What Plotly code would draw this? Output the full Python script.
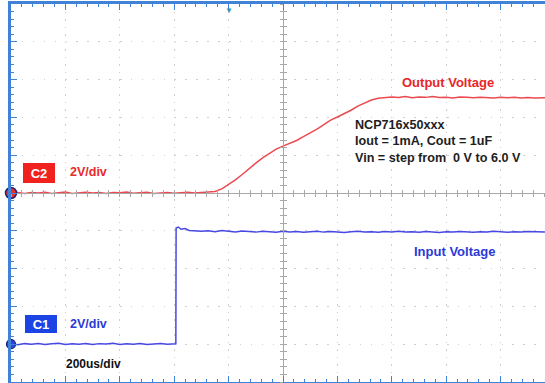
import plotly.graph_objects as go

# time in microseconds (200 us/div), volts per channel (2 V/div)
OUT_T = [0, 25, 50, 75, 100, 125, 150, 175, 200, 225, 250, 275, 300, 325, 350, 375,
         400, 425, 450, 475, 500, 525, 550, 575, 600, 625, 650, 675, 700, 725, 750,
         775, 800, 825, 850, 875, 900, 925, 950, 975, 1000, 1025, 1050, 1075, 1100,
         1125, 1150, 1175, 1200, 1225, 1250, 1275, 1300, 1325, 1350, 1375, 1400,
         1425, 1450, 1475, 1500, 1525, 1550, 1575, 1600, 1625, 1650, 1675, 1700,
         1725, 1750, 1775, 1800, 1825, 1850, 1875, 1900, 1925, 1963]
OUT_V = [0.00, 0.03, -0.02, 0.02, 0.00, 0.04, -0.03, 0.02, 0.05, -0.02, 0.01, 0.04,
         0.00, 0.03, -0.02, 0.03, 0.01, 0.05, -0.01, 0.02, 0.04, -0.02, 0.01, 0.03,
         -0.01, 0.02, 0.04, 0.00, 0.02, 0.05, 0.08,
         0.22, 0.45, 0.70, 0.98, 1.30, 1.58, 1.86, 2.10, 2.32, 2.48, 2.62, 2.78,
         2.98, 3.16, 3.38, 3.62, 3.86, 4.02, 4.18, 4.38, 4.60, 4.78, 4.92, 5.01,
         5.06, 5.08,
         5.05, 5.10, 5.04, 5.08, 5.06, 5.11, 5.05, 5.07, 5.03, 5.08, 5.06, 5.04,
         5.07, 5.05, 5.02, 5.06, 5.04, 5.07, 5.03, 5.05, 5.02, 5.04]

IN_T = [0, 25, 50, 75, 100, 125, 150, 175, 200, 225, 250, 275, 300, 325, 350, 375,
        400, 425, 450, 475, 500, 525, 550, 575, 600, 606, 607, 615, 625, 640, 655,
        675, 700, 725, 750, 775, 800, 825, 850, 875, 900, 925, 950, 975, 1000, 1025,
        1050, 1075, 1100, 1125, 1150, 1175, 1200, 1225, 1250, 1275, 1300, 1325,
        1350, 1375, 1400, 1425, 1450, 1475, 1500, 1525, 1550, 1575, 1600, 1625,
        1650, 1675, 1700, 1725, 1750, 1775, 1800, 1825, 1850, 1875, 1900, 1925, 1963]
IN_V = [0.02, -0.03, 0.03, 0.00, 0.04, -0.02, 0.02, 0.05, -0.01, 0.03, 0.00, 0.04,
        -0.02, 0.03, 0.01, 0.05, -0.01, 0.03, 0.00, 0.04, -0.02, 0.02, 0.04, 0.00,
        0.02, 0.02, 6.15, 6.20, 6.08, 6.12, 6.02, 6.00, 5.97, 6.00, 5.95, 6.02,
        5.98, 5.94, 5.99, 5.96, 5.93, 5.98, 5.95, 5.92, 5.97, 5.94, 5.96, 5.92,
        5.95, 5.98, 5.93, 5.96, 5.94, 5.91, 5.95, 5.97, 5.93, 5.95, 5.92, 5.96,
        5.94, 5.97, 5.93, 5.95, 5.92, 5.96, 5.94, 5.91, 5.95, 5.93, 5.96, 5.94,
        5.92, 5.95, 5.93, 5.97, 5.94, 5.92, 5.95, 5.93, 5.96, 5.94, 5.93]

T_RANGE = [0, 1963.2]
C2_RANGE = [-10, 10]   # C2 ground at screen centre
C1_RANGE = [-2, 18]    # C1 ground four divisions below centre
TRIGGER_T = 800

RED = "#ea4a50"
BLUE = "#4848e2"
BORDER = "#3f82d8"
GRID = "#cfcfcf"
AXGRAY = "#a8a8a8"
FONT = "Arial, Liberation Sans, sans-serif"

fig = go.Figure()
fig.add_trace(go.Scatter(x=OUT_T, y=OUT_V, mode="lines", line=dict(color=RED, width=1.5),
                         xaxis="x", yaxis="y", hoverinfo="skip"))
fig.add_trace(go.Scatter(x=IN_T, y=IN_V, mode="lines", line=dict(color=BLUE, width=1.5),
                         xaxis="x", yaxis="y2", hoverinfo="skip"))
# ground markers
fig.add_trace(go.Scatter(x=[0], y=[0], mode="markers", cliponaxis=False, xaxis="x", yaxis="y",
                         marker=dict(size=11, color="#e83030", line=dict(color="#23236e", width=1.5))))
fig.add_trace(go.Scatter(x=[0], y=[0], mode="markers", cliponaxis=False, xaxis="x", yaxis="y2",
                         marker=dict(size=9, color="#2848e0", line=dict(color="#1a1a80", width=1.2))))
# empty traces so the centre-cross axes get drawn
fig.add_trace(go.Scatter(x=[None], y=[None], xaxis="x2", yaxis="y3", hoverinfo="skip"))
fig.add_trace(go.Scatter(x=[None], y=[None], xaxis="x3", yaxis="y4", hoverinfo="skip"))

center_axis = dict(range=T_RANGE, overlaying="x", anchor="free", position=0.5,
                   showline=True, linecolor=AXGRAY, linewidth=1, showgrid=False,
                   zeroline=False, showticklabels=False, dtick=200, tick0=0,
                   ticklen=3, tickcolor=AXGRAY,
                   minor=dict(dtick=40, ticklen=3, tickcolor=AXGRAY))
center_yaxis = dict(range=C2_RANGE, overlaying="y", anchor="free",
                    position=1000 / T_RANGE[1], showline=True, linecolor=AXGRAY,
                    linewidth=1, showgrid=False, zeroline=False, showticklabels=False,
                    dtick=2, tick0=0, ticklen=3, tickcolor=AXGRAY,
                    minor=dict(dtick=0.4, ticklen=3, tickcolor=AXGRAY))

fig.update_layout(
    width=545, height=383,
    margin=dict(l=11, r=0, t=4, b=1),
    paper_bgcolor="white", plot_bgcolor="white",
    showlegend=False,
    font=dict(family=FONT),
    xaxis=dict(range=T_RANGE, showgrid=True, gridcolor=GRID, griddash="1.5px,6px",
               dtick=200, tick0=0, zeroline=False, showticklabels=False,
               showline=True, linecolor=BORDER, linewidth=3, mirror="ticks",
               ticks="inside", ticklen=6, tickcolor=BORDER,
               minor=dict(dtick=40, ticks="inside", ticklen=3, tickcolor=BORDER)),
    yaxis=dict(range=C2_RANGE, showgrid=True, gridcolor=GRID, griddash="1.5px,9.4px",
               dtick=2, tick0=0, zeroline=False, showticklabels=False,
               showline=True, linecolor=BORDER, linewidth=3,
               ticks="inside", ticklen=6, tickcolor=BORDER,
               minor=dict(dtick=0.4, ticks="inside", ticklen=3, tickcolor=BORDER)),
    yaxis2=dict(range=C1_RANGE, overlaying="y", visible=False),
    xaxis2=dict(center_axis, ticks="outside", minor=dict(center_axis["minor"], ticks="outside")),
    xaxis3=dict(center_axis, ticks="inside", minor=dict(center_axis["minor"], ticks="inside")),
    yaxis3=dict(center_yaxis, ticks="outside", minor=dict(center_yaxis["minor"], ticks="outside")),
    yaxis4=dict(center_yaxis, ticks="inside", minor=dict(center_yaxis["minor"], ticks="inside")),
)

ann = []
ann.append(dict(x=103, y=1.06, text="<b>C2</b>", font=dict(color="white", size=13),
                bgcolor="#f0221e", bordercolor="#f0221e", width=28, height=16, borderpad=1))
ann.append(dict(x=285, y=1.11, text="<b>2V/div</b>", font=dict(color="#e82a2a", size=12.5)))
ann.append(dict(x=110, y=-6.94, text="<b>C1</b>", font=dict(color="white", size=13),
                bgcolor="#1c44e4", bordercolor="#1c44e4", width=28, height=14, borderpad=1))
ann.append(dict(x=285, y=-6.93, text="<b>2V/div</b>", font=dict(color="#2a3ad6", size=12.5)))
ann.append(dict(x=305, y=-9.05, text="<b>200us/div</b>", font=dict(color="#111111", size=12)))
ann.append(dict(x=1606, y=5.87, text="<b>Output Voltage</b>", font=dict(color="#e8262a", size=13)))
ann.append(dict(x=1632, y=-3.12, text="<b>Input Voltage</b>", font=dict(color="#2a3ad6", size=13)))
ann.append(dict(x=1257, y=2.75, xanchor="left", align="left",
                text="<b>NCP716x50xxx<br>Iout = 1mA, Cout = 1uF<br>Vin = step from  0 V to 6.0 V</b>",
                font=dict(color="#1e1e1e", size=12.6)))
for a in ann:
    a.update(xref="x", yref="y", showarrow=False)
ann.append(dict(x=TRIGGER_T, y=1, xref="x", yref="paper", yanchor="top", showarrow=False,
                text="▼", font=dict(color="#2f8fc0", size=8)))
fig.update_layout(annotations=ann)

fig.write_html("out.html", config={"displayModeBar": False},
               post_script="document.body.style.margin='0';")
